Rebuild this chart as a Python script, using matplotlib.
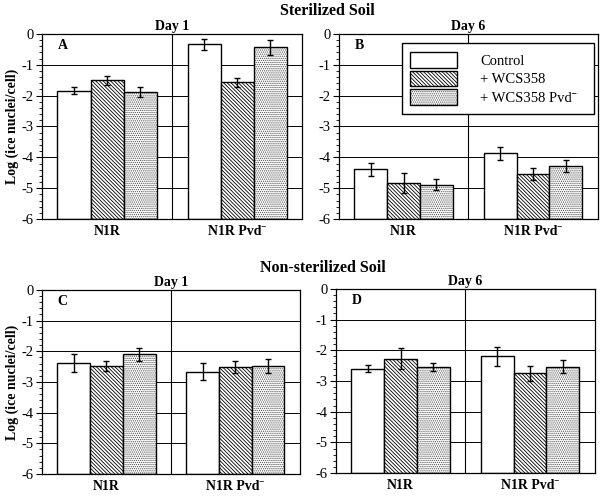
import numpy as np
import matplotlib
matplotlib.use("Agg")
import matplotlib.pyplot as plt
from matplotlib.ticker import MultipleLocator, FuncFormatter

plt.rcParams['font.family'] = ['Liberation Serif', 'DejaVu Serif']
plt.rcParams['hatch.linewidth'] = 0.6
plt.rcParams['axes.unicode_minus'] = False

groups = ["N1R", "N1R Pvd\u02c9"]
treatments = ["Control", "+ WCS358", "+ WCS358 Pvd\u02c9"]

# log(ice nuclei/cell), rows = treatments, cols = groups
a_vals = [[-1.84, -0.33], [-1.50, -1.57], [-1.88, -0.43]]
a_errs = [[0.12, 0.18], [0.15, 0.15], [0.17, 0.24]]
b_vals = [[-4.39, -3.87], [-4.84, -4.54], [-4.88, -4.29]]
b_errs = [[0.20, 0.20], [0.32, 0.20], [0.17, 0.20]]
c_vals = [[-2.39, -2.66], [-2.47, -2.50], [-2.09, -2.49]]
c_errs = [[0.30, 0.27], [0.16, 0.20], [0.21, 0.23]]
d_vals = [[-2.60, -2.20], [-2.27, -2.75], [-2.54, -2.54]]
d_errs = [[0.12, 0.32], [0.35, 0.24], [0.13, 0.21]]

hatches = ["", "\\" * 9, "." * 8]
hatch_colors = ["k", "k", "0.3"]

fig = plt.figure(figsize=(6.05, 4.99), dpi=100)

def panel(rect, vals, errs, letter, day, legend=False):
    ax = fig.add_axes(rect)
    x = np.arange(len(groups))
    w = 0.254
    for i in range(3):
        b = ax.bar(x + (i - 1) * w, np.array(vals[i]) + 6, w, bottom=-6,
                   color="white", edgecolor="k", linewidth=1.0,
                   hatch=hatches[i], zorder=2, label=treatments[i])
        for p in b:
            p._hatch_color = matplotlib.colors.to_rgba(hatch_colors[i])
        ax.errorbar(x + (i - 1) * w, vals[i], yerr=errs[i], fmt="none",
                    ecolor="k", elinewidth=1.0, capsize=2.5, capthick=1.0, zorder=3)
    ax.set_xlim(-0.5, 1.5)
    ax.set_ylim(-6, 0)
    for y in range(-5, 0):
        ax.axhline(y, color="k", lw=0.7, zorder=1)
    ax.axvline(0.5, color="k", lw=0.8, zorder=1)
    ax.set_xticks(x)
    ax.set_xticklabels(groups, fontweight="bold", fontsize=10)
    ax.tick_params(axis="x", length=0, pad=4)
    ax.yaxis.set_major_locator(MultipleLocator(1))
    ax.yaxis.set_minor_locator(MultipleLocator(0.2))
    ax.yaxis.set_major_formatter(FuncFormatter(lambda v, _: f"{int(round(v))}"))
    ax.tick_params(axis="y", which="major", direction="out", length=4, labelsize=10.5, pad=2)
    ax.tick_params(axis="y", which="minor", direction="out", length=2)
    for s in ax.spines.values():
        s.set_linewidth(0.9)
    ax.text(0.06, 0.935, letter, transform=ax.transAxes, fontweight="bold",
            fontsize=10, va="center")
    ax.set_title(day, fontweight="bold", fontsize=10, pad=3)
    if rect[0] < 0.3:
        ax.set_ylabel("Log (ice nuclei/cell)", fontweight="bold", fontsize=10, labelpad=2)
    if legend:
        leg = ax.legend(loc="upper left", bbox_to_anchor=(0.243, 0.584, 0.742, 0.367),
                        mode="expand", fancybox=False, framealpha=1, edgecolor="k",
                        fontsize=10.5, handlelength=3.2, handleheight=1.3,
                        handletextpad=1.6, borderpad=0.6, labelspacing=0.2,
                        borderaxespad=0)
        leg.get_frame().set_linewidth(1.0)
        leg.set_zorder(5)
    return ax

panel([0.0694, 0.561, 0.430, 0.371], a_vals, a_errs, "A", "Day 1")
panel([0.560, 0.561, 0.428, 0.371], b_vals, b_errs, "B", "Day 6", legend=True)
panel([0.0694, 0.050, 0.426, 0.369], c_vals, c_errs, "C", "Day 1")
panel([0.555, 0.052, 0.428, 0.369], d_vals, d_errs, "D", "Day 6")

fig.text(0.541, 0.978, "Sterilized Soil", ha="center", va="center",
         fontweight="bold", fontsize=11.5)
fig.text(0.533, 0.463, "Non-sterilized Soil", ha="center", va="center",
         fontweight="bold", fontsize=11.5)

fig.savefig("out.png", dpi=100)
